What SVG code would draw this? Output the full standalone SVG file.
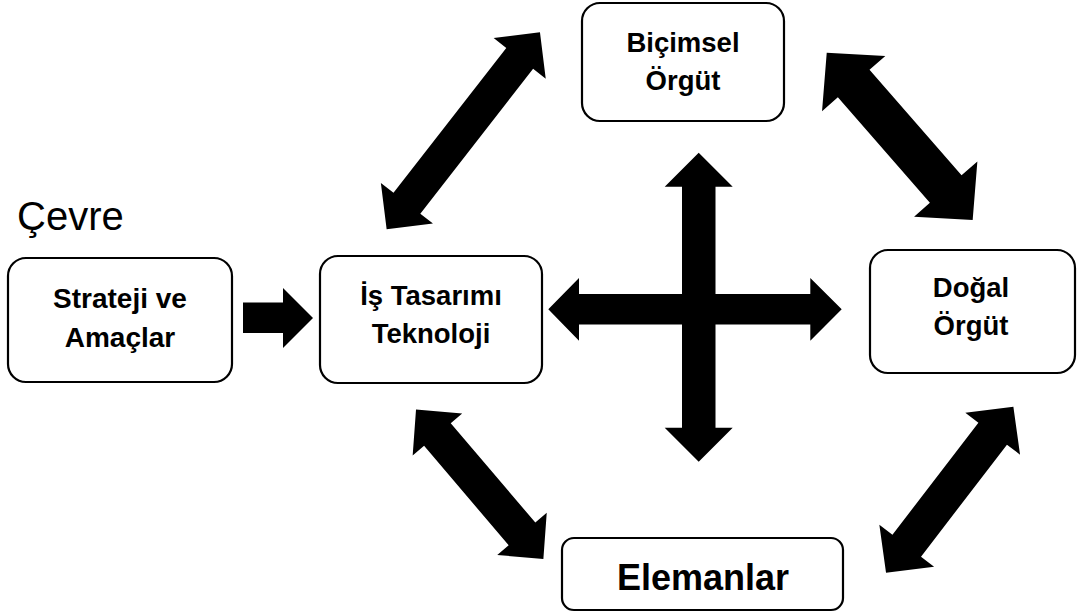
<svg xmlns="http://www.w3.org/2000/svg" width="1078" height="615" viewBox="0 0 1078 615">
<style>
.box{fill:#fff;stroke:#000;stroke-width:2.2}
.lbl{font-family:"Liberation Sans",Arial,sans-serif;font-weight:bold;fill:#000;text-anchor:middle}
.arr{fill:#000;stroke:none}
</style>
<rect width="1078" height="615" fill="#fff"/>
<text x="17" y="230" style="font-family:'Liberation Sans',Arial,sans-serif;font-size:40px;fill:#000">Çevre</text>
<g id="connectors">
<polygon class="arr" transform="translate(463.3,130.8) rotate(-52.1)" points="-124.8,0 -91.8,-33 -91.8,-17 91.8,-17 91.8,-33 124.8,0 91.8,33 91.8,17 -91.8,17 -91.8,33"/>
<polygon class="arr" transform="translate(899.7,136.3) rotate(48.9)" points="-111,0 -70,-42 -70,-21 70,-21 70,-42 111,0 70,42 70,21 -70,21 -70,42"/>
<polygon class="arr" transform="translate(479.7,484.2) rotate(49.6)" points="-98.25,0 -65.25,-32.5 -65.25,-17.5 65.25,-17.5 65.25,-32.5 98.25,0 65.25,32.5 65.25,17.5 -65.25,17.5 -65.25,32.5"/>
<polygon class="arr" transform="translate(949.7,489.7) rotate(-52.5)" points="-104.6,0 -70.6,-34.5 -70.6,-18 70.6,-18 70.6,-34.5 104.6,0 70.6,34.5 70.6,18 -70.6,18 -70.6,34.5"/>
<polygon class="arr" points="698.7,152.7 732.7,186.7 715.5,186.7 715.5,427.7 732.7,427.7 698.7,461.7 664.7,427.7 682,427.7 682,186.7 664.7,186.7"/>
<polygon class="arr" points="548.3,309.3 579,278 579,294 810.3,294 810.3,278 841.7,309.3 810.3,340.7 810.3,324.5 579,324.5 579,340.7"/>
<polygon class="arr" points="243,302.5 283,302.5 283,288 313,318 283,348 283,333 243,333"/>
</g>
<g id="bicimsel">
<rect class="box" x="582" y="3" width="202" height="118" rx="18"/>
<text class="lbl" x="683" y="52" font-size="27.5">Biçimsel</text>
<text class="lbl" x="683" y="90" font-size="27.5">Örgüt</text>
</g>
<g id="dogal">
<rect class="box" x="870" y="250" width="205" height="123" rx="18"/>
<text class="lbl" x="971" y="297" font-size="27.5">Doğal</text>
<text class="lbl" x="971" y="335" font-size="27.5">Örgüt</text>
</g>
<g id="strateji">
<rect class="box" x="8" y="258" width="224" height="124" rx="18"/>
<text class="lbl" x="120" y="308" font-size="28">Strateji ve</text>
<text class="lbl" x="120" y="347" font-size="28">Amaçlar</text>
</g>
<g id="is">
<rect class="box" x="320" y="256" width="222" height="127" rx="18"/>
<text class="lbl" x="431" y="305" font-size="27.5">İş Tasarımı</text>
<text class="lbl" x="431" y="343" font-size="27.5">Teknoloji</text>
</g>
<g id="elemanlar">
<rect class="box" x="562" y="538" width="281" height="72" rx="12"/>
<text class="lbl" x="703" y="590" font-size="36">Elemanlar</text>
</g>
</svg>
